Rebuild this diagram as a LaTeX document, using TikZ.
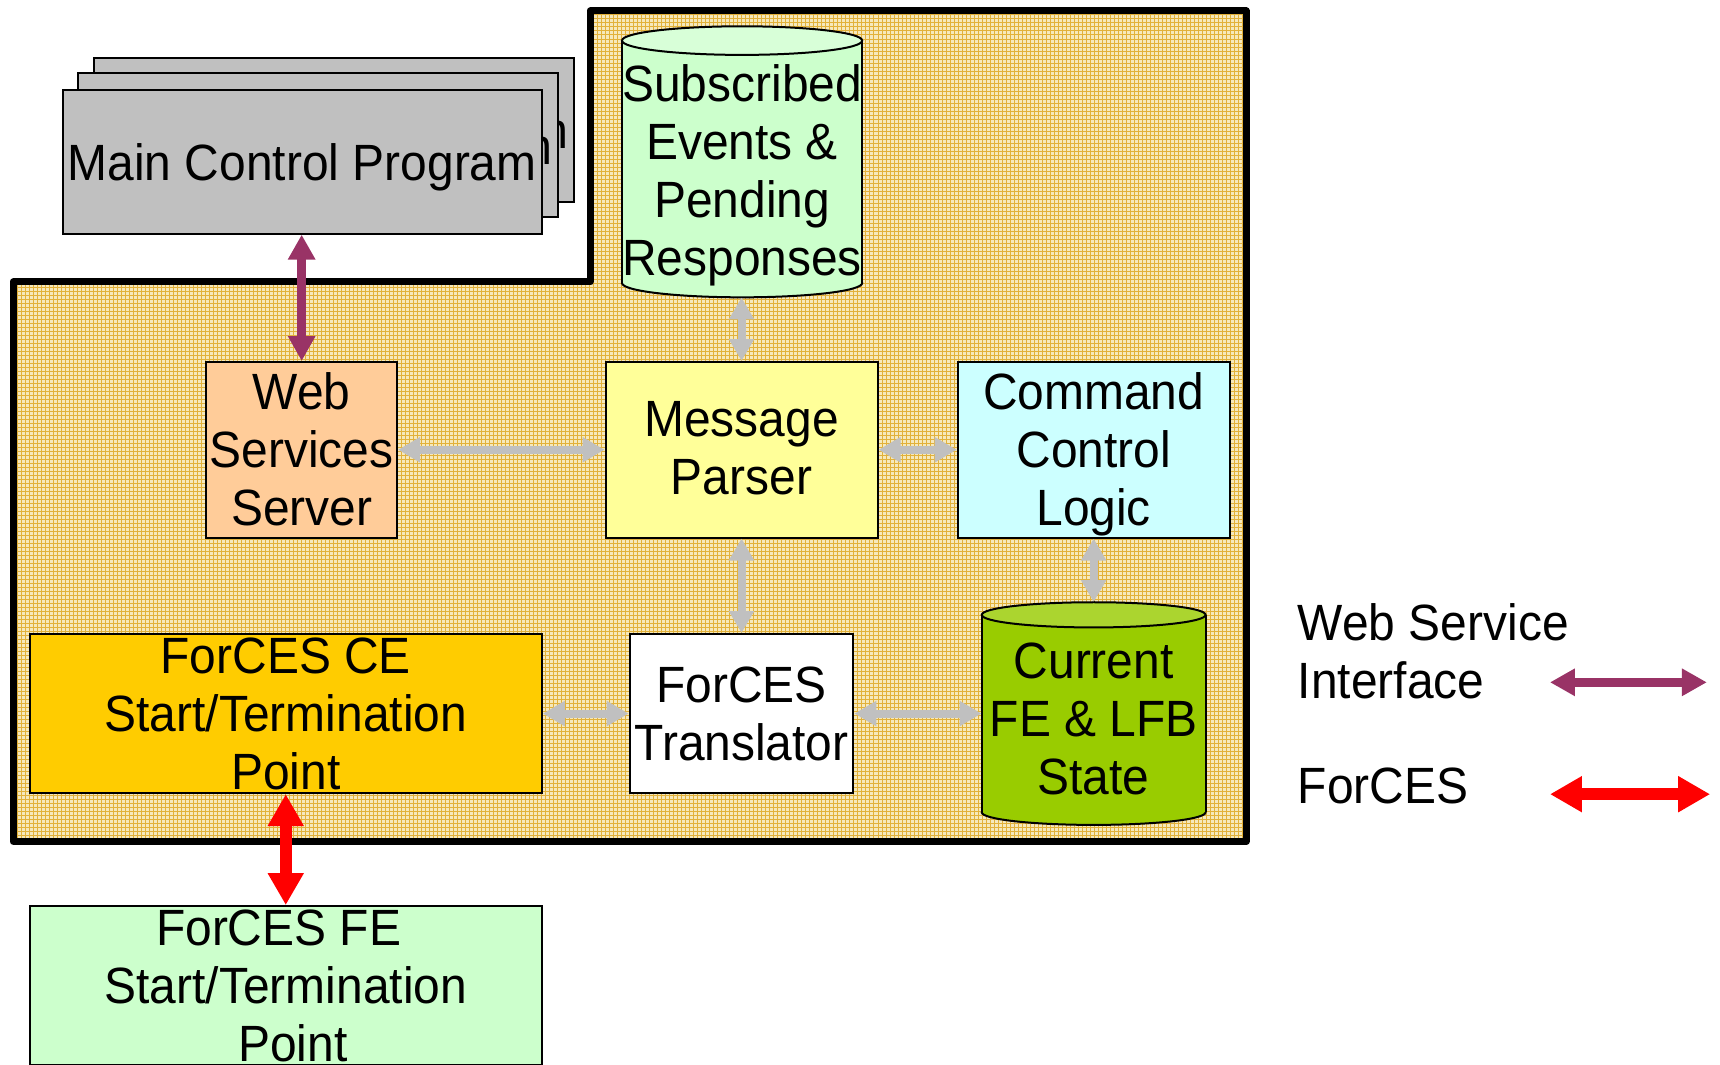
\documentclass[tikz,border=0pt]{standalone}
\usepackage{fontspec}
\setmainfont{Liberation Sans}[FakeStretch=0.94]
\usetikzlibrary{arrows.meta}

\definecolor{plum}{HTML}{993366}
\definecolor{linkgrey}{HTML}{C0C0C0}
\definecolor{panelbase}{HTML}{F6E9BC}
\definecolor{panelgrid}{HTML}{E2B13A}
\definecolor{greybox}{HTML}{C0C0C0}
\definecolor{peach}{HTML}{FFCC99}
\definecolor{paleyellow}{HTML}{FFFF99}
\definecolor{palecyan}{HTML}{CCFFFF}
\definecolor{gold}{HTML}{FFCC00}
\definecolor{palegreen}{HTML}{CCFFCC}
\definecolor{palegreentop}{HTML}{D8FFD8}
\definecolor{lime}{HTML}{99CC00}
\definecolor{limetop}{HTML}{ABD52F}

% struts on the first and last line of a label, so that the middle of the
% capital letters sits on the node centre
\newcommand\tst{\rule{0pt}{48.8pt}}
\newcommand\tsb{\rule[-11pt]{0pt}{11pt}}

\tikzset{
  txt/.style={font=\fontsize{51}{58}\selectfont, align=center, inner sep=0pt},
  box/.style={draw, line width=2pt, inner sep=0pt},
  wsarrow/.style={draw=plum, line width=9pt,
                  {Triangle[length=25pt,width=26pt]}-{Triangle[length=25pt,width=26pt]}},
  fcarrow/.style={draw=red, line width=12pt,
                  {Triangle[length=32pt,width=34pt]}-{Triangle[length=32pt,width=34pt]}},
  link/.style={draw=linkgrey, line width=8pt,
               {Triangle[length=22pt,width=24pt]}-{Triangle[length=22pt,width=24pt]}},
  gridline/.style={panelgrid, line width=1pt},
}

\begin{document}
\begin{tikzpicture}[x=1.09694pt, y=-1.09694pt]
\useasboundingbox (0,0) rectangle (1568,970);
\begin{scope}
\clip (0,0) rectangle (1568,970);

% ---- CE panel: checked background and heavy outline ----
\fill[panelbase] (12,257) -- (538,257) -- (538,10) -- (1136,10) -- (1136,767) -- (12,767) -- cycle;
\begin{scope}
  \clip (12,257) -- (538,257) -- (538,10) -- (1136,10) -- (1136,767) -- (12,767) -- cycle;
  \foreach \i in {0,...,312} \draw[gridline] ({12+\i*3.65},0) -- ({12+\i*3.65},780);
  \foreach \j in {0,...,210} \draw[gridline] (0,{10+\j*3.65}) -- (1150,{10+\j*3.65});
\end{scope}
\draw[line width=7pt, line join=round] (12,257) -- (538,257) -- (538,10) -- (1136,10) -- (1136,767) -- (12,767) -- cycle;

% ---- stacked main control programs ----
\node[box, fill=greybox, minimum width=479.4pt, minimum height=143.7pt] (mcpc) at (304.5,118.5) {};
\node[txt] (mcpct) at (mcpc) {\tst Main Control Program\tsb};
\node[box, fill=greybox, minimum width=479.4pt, minimum height=143.7pt] (mcpb) at (290,132.5) {};
\node[txt] (mcpbt) at (mcpb) {\tst Main Control Program\tsb};
\node[box, fill=greybox, minimum width=479.4pt, minimum height=143.7pt] (mcp) at (275.5,147.5) {};
\node[txt] (mcpt) at (mcp) {\tst Main Control Program\tsb};

% ---- cylinder: subscribed events ----
\filldraw[fill=palegreen, line width=2pt] (676.5,258) ellipse [x radius=120.1pt, y radius=14.3pt];
\fill[palegreen] (567,37) rectangle (786,258);
\draw[line width=2pt] (567,37) -- (567,258) (786,37) -- (786,258);
\filldraw[fill=palegreentop, line width=2pt] (676.5,37) ellipse [x radius=120.1pt, y radius=14.3pt];
\node[txt, minimum width=240.2pt, minimum height=255.6pt] (subs) at (676.5,154.5) {\tst Subscribed\\Events \&\\Pending\\Responses\tsb};

% ---- cylinder: current FE and LFB state ----
\filldraw[fill=lime, line width=2pt] (997,740.5) ellipse [x radius=111.9pt, y radius=12.6pt];
\fill[lime] (895,560.5) rectangle (1099,740.5);
\draw[line width=2pt] (895,560.5) -- (895,740.5) (1099,560.5) -- (1099,740.5);
\filldraw[fill=limetop, line width=2pt] (997,560.5) ellipse [x radius=111.9pt, y radius=12.6pt];
\node[txt, minimum width=223.8pt, minimum height=231.5pt] (cur) at (997,654.5) {\tst Current\\FE \& LFB\\State\tsb};

% ---- boxes ----
\node[box, fill=peach, minimum width=190.9pt, minimum height=175.5pt] (wss) at (275,410) {};
\node[txt] (wsst) at (275,408.5) {\tst Web\\Services\\Server\tsb};
\node[box, fill=paleyellow, minimum width=272pt, minimum height=175.5pt] (parser) at (676,410) {};
\node[txt] (parsert) at (676,407) {\tst Message\\Parser\tsb};
\node[box, fill=palecyan, minimum width=272pt, minimum height=175.5pt] (ccl) at (997,410) {};
\node[txt] (cclt) at (997,408.5) {\tst Command\\Control\\Logic\tsb};
\node[box, fill=gold, minimum width=512.3pt, minimum height=159.1pt] (ce) at (260.5,650.5) {};
\node[txt] (cet) at (260.5,649.5) {\tst ForCES CE\\Start/Termination\\Point\tsb};
\node[box, fill=white, minimum width=223.8pt, minimum height=159.1pt] (trans) at (676,650.5) {};
\node[txt] (transt) at (676,650) {\tst ForCES\\Translator\tsb};
\node[box, fill=palegreen, minimum width=512.3pt, minimum height=159.1pt] (fe) at (260.5,898.5) {};
\node[txt] (fet) at (260.5,897.5) {\tst ForCES FE\hspace*{0.28em}\\Start/Termination\\\hspace*{0.28em}Point\tsb};

% ---- internal links ----
\draw[link] (parser.north |- subs.south) -- (parser.north);
\draw[link] (wss.east) -- (parser.west);
\draw[link] (parser.east) -- (ccl.west);
\draw[link] (parser.south) -- (trans.north);
\draw[link] (ccl.south) -- (cur.north);
\draw[link] (ce.east) -- (trans.west);
\draw[link] (trans.east) -- (trans.east -| cur.west);

% ---- external interfaces ----
\draw[wsarrow] (wss.north |- mcp.south) -- (wss.north);
\draw[fcarrow] (ce.south) -- (fe.north);

% ---- legend ----
\node[txt, align=left, anchor=west] (lgws) at (1183,593.5) {\tst Web Service\\Interface\tsb};
\node[txt, align=left, anchor=west] (lgfc) at (1183,715.5) {\tst ForCES\tsb};
\coordinate (wsa) at (1413,622);
\coordinate (wsb) at (1556,622);
\coordinate (fca) at (1413,724);
\coordinate (fcb) at (1559,724);
\draw[wsarrow] (wsa) -- (wsb);
\draw[fcarrow] (fca) -- (fcb);
\end{scope}
\end{tikzpicture}
\end{document}
